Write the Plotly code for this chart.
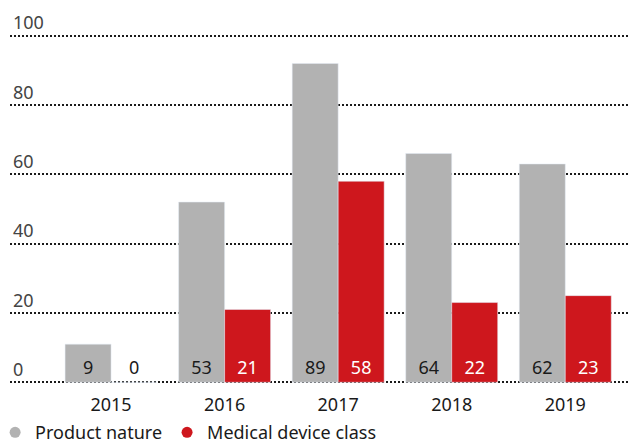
import plotly.graph_objects as go

years = ["2015", "2016", "2017", "2018", "2019"]

# bar heights as drawn, and the numbers printed on them
product_heights = [11, 52, 92, 66, 63]
product_labels = ["9", "53", "89", "64", "62"]
device_heights = [0, 21, 58, 23, 25]
device_labels = ["0", "21", "58", "22", "23"]

y_ticks = [0, 20, 40, 60, 80, 100]

grey = "#b2b2b2"
red = "#ce171d"
font = "Noto Sans"
fs = 18


def positions(vals):
    return ["inside" if v > 0 else "outside" for v in vals]


fig = go.Figure()

fig.add_trace(go.Bar(x=years, y=product_heights, text=product_labels,
                     textposition=positions(product_heights), insidetextanchor="start",
                     insidetextfont=dict(color="#1a1a1a", size=fs, family=font),
                     outsidetextfont=dict(color="#1a1a1a", size=fs, family=font),
                     marker_color=grey, showlegend=False, hoverinfo="skip"))
fig.add_trace(go.Bar(x=years, y=device_heights, text=device_labels,
                     textposition=positions(device_heights), insidetextanchor="start",
                     insidetextfont=dict(color="white", size=fs, family=font),
                     outsidetextfont=dict(color="#1a1a1a", size=fs, family=font),
                     marker_color=red, showlegend=False, hoverinfo="skip"))

# legend entries with round markers
fig.add_trace(go.Scatter(x=[None], y=[None], mode="markers", name="Product nature",
                         marker=dict(color=grey, size=11, symbol="circle")))
fig.add_trace(go.Scatter(x=[None], y=[None], mode="markers", name="Medical device class",
                         marker=dict(color=red, size=11, symbol="circle")))

fig.update_layout(
    width=636, height=445,
    margin=dict(l=10, r=6, t=34, b=61, autoexpand=False),
    paper_bgcolor="white", plot_bgcolor="white",
    font=dict(family=font, size=fs, color="#1a1a1a"),
    barmode="group", bargap=0.19, bargroupgap=0,
    legend=dict(orientation="h", x=-0.024, xanchor="left", y=-0.139, yanchor="middle",
                font=dict(size=fs), itemwidth=30, tracegroupgap=0),
)

fig.update_xaxes(type="category", range=[-0.89, 4.57], showgrid=False, showline=False,
                 automargin=False, ticks="", ticklabelstandoff=8, tickfont=dict(size=fs))
fig.update_yaxes(range=[-0.5, 100.5], tickvals=y_ticks, showgrid=True, gridcolor="#1a1a1a",
                 gridwidth=2, griddash="2px,2px", zeroline=False, showline=False,
                 automargin=False, ticklabelposition="inside top", ticklabeloverflow="allow",
                 tickfont=dict(size=fs), layer="below traces")

# page body has a default 8px margin; drop it so the figure sits at the window corner
fig.write_html("out.html", config={"displayModeBar": False},
               post_script="document.body.style.margin = '0';")
